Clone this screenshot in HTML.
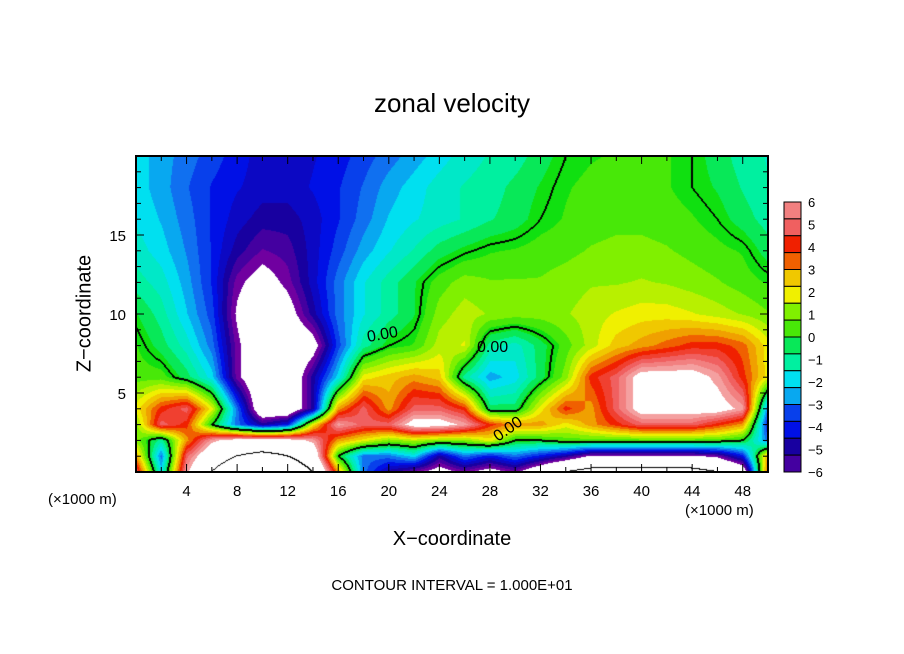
<!DOCTYPE html>
<html><head><meta charset="utf-8"><style>
body{margin:0;background:#fff;width:904px;height:654px;overflow:hidden;position:relative;font-family:"Liberation Sans",sans-serif;}
.t{position:absolute;white-space:nowrap;color:#000;}
</style></head><body>
<div class="t" style="left:0;width:904px;text-align:center;top:88px;font-size:26px;">zonal velocity</div>
<div class="t" style="left:20px;top:302px;width:130px;text-align:center;font-size:20px;transform:rotate(-90deg);">Z−coordinate</div>
<div class="t" style="left:0;width:904px;text-align:center;top:528px;font-size:20px;">X−coordinate</div>
<div class="t" style="left:48px;top:491px;font-size:15px;">(×1000 m)</div>
<div class="t" style="left:685px;top:502px;font-size:15px;">(×1000 m)</div>
<div class="t" style="left:0;width:904px;text-align:center;top:577px;font-size:15px;">CONTOUR INTERVAL = 1.000E+01</div>
<canvas id="cv" width="632" height="316" style="position:absolute;left:136px;top:156px;"></canvas>
<svg id="sv" width="904" height="654" style="position:absolute;left:0;top:0;"></svg>
<script>
const xs=[0,2,4,6,8,10,12,14,16,18,20,22,24,26,28,30,32,34,36,38,40,42,44,46,48,50];
const zs=[20,18,16,14,12,10,8,6,4,3,2,1,0];
const u20=[-2,-2.5,-3,-3.5,-4,-4.5,-4.5,-4.3,-4,-3.5,-3,-2.5,-2,-1.5,-1.2,-1,-0.5,0,0.2,0.3,0.5,0.3,0,-0.5,-1,-1.3];
const u18=[-2,-2.5,-3.2,-3.8,-4.2,-4.5,-4.5,-4.2,-3.8,-3.2,-2.5,-2,-1.5,-1.2,-1,-0.6,-0.2,0.2,0.4,0.5,0.5,0.3,0,-0.3,-0.8,-1.2];
const u16=[-1.8,-2.3,-3,-3.8,-4.5,-5,-5,-4.5,-3.8,-3,-2.2,-1.8,-1.5,-1.2,-0.8,-0.5,0,0.3,0.5,0.6,0.6,0.5,0.3,0,-0.5,-1];
const u14=[-1.5,-2,-2.8,-3.8,-5,-5.8,-5.5,-4.5,-3.5,-2.5,-1.8,-1.2,-0.5,-0.1,0.2,0.3,0.5,0.6,0.8,0.9,0.9,0.8,0.6,0.4,0.2,-0.5];
const u12=[-1,-1.5,-2.5,-3.8,-6,-7,-6,-4.5,-3,-1.8,-1,-0.3,0.5,1,0.8,0.8,0.8,1,1.2,1.2,1.3,1.2,1,0.8,0.5,0.2];
const u10=[-0.2,-1,-2.2,-3.5,-6.5,-8,-7,-5,-3,-1.8,-1,-0.3,1,1.5,1.2,1,1,1.2,1.5,1.8,2,2,1.8,1.5,1.2,0.8];
const u8=[0.3,-0.5,-1.5,-3,-6,-8,-8,-7,-3.5,-1,0,0.3,1.5,1.8,-1,-1.5,-0.5,0.5,1.5,2.5,3,3.5,4,4,3.5,2];
const u6=[0.5,0.5,-0.5,-2,-6,-8,-8,-5,-2,2,2.5,3,2.5,-1,-2.5,-2,-0.5,1,4,5,7,7,7,6,4,2];
const u4=[2,4,5,2,-3,-8,-8,-5,3,5,3,5,5,4,-0.5,-0.5,2,4,3,5,7,7,7,7,6,-3];
const u3=[1,5,4,0,-3,-5,-4,2,6,5,5,7,7,6,4,3,3,2,3,4,5,5,5,4,3,-4];
const u2=[1,-1,3,6,7,7,7,6,3,2,1,1.5,1,1,2,0,0,0.5,0.5,0.5,0.5,0.5,0.5,0.5,0,-3];
const u1=[3,-3,5,8,10,11,10,8,0,-3,-3,-2,-5,-3,-4,-3,-4,-5,-6.5,-6.5,-6.5,-6.5,-6.5,-6,-4,3];
const u0=[5,-2,6,10,13,15,13,10,3,-3,-5,-6,-7,-6,-7,-6,-8,-10,-11,-11,-11,-11,-11,-10,-8,4];
const rows=[u20,u18,u16,u14,u12,u10,u8,u6,u4,u3,u2,u1,u0];
const cbLabels=[6,5,4,3,2,1,0,-1,-2,-3,-4,-5,-6];
const xTicks=[4,8,12,16,20,24,28,32,36,40,44,48];
const yTicks=[5,10,15];

const PX0=136,PY0=156,PW=632,PH=316,XMAX=50,ZMAX=20;
const sx=x=>PX0+x/XMAX*PW, sy=z=>PY0+PH-z/ZMAX*PH;
const stops=[[-6,[112,0,160]],[-5,[24,0,160]],[-4,[0,16,230]],[-3,[16,112,240]],[-2,[0,224,240]],[-1,[0,240,160]],[0,[16,224,16]],[1,[128,240,0]],[2,[240,240,0]],[3,[240,160,0]],[4,[240,32,0]],[5,[240,96,96]],[6,[244,160,160]]];
function cmap(v){
  if(v>6.3||v<-6.3) return [255,255,255];
  v=Math.max(-6,Math.min(6,Math.round(v*2)/2));
  for(let i=0;i<stops.length-1;i++){const a=stops[i],b=stops[i+1];
    if(v<=b[0]){const t=(v-a[0])/(b[0]-a[0]);return a[1].map((c,k)=>Math.round(c+(b[1][k]-c)*t));}}
  return stops[stops.length-1][1];
}
function field(x,z){
  let i=Math.min(xs.length-2,Math.floor(x/2)); let tx=(x-xs[i])/(xs[i+1]-xs[i]);
  let j=0; while(j<zs.length-2&&z<zs[j+1]) j++;
  let tz=(zs[j]-z)/(zs[j]-zs[j+1]); tz=Math.max(0,Math.min(1,tz));
  const a=rows[j][i],b=rows[j][i+1],c=rows[j+1][i],d=rows[j+1][i+1];
  return (a*(1-tx)+b*tx)*(1-tz)+(c*(1-tx)+d*tx)*tz;
}
const cv=document.getElementById('cv'),ctx=cv.getContext('2d');
const img=ctx.createImageData(PW,PH);const F=new Float32Array(PW*PH);
for(let py=0;py<PH;py++)for(let px=0;px<PW;px++){F[py*PW+px]=field((px+0.5)/PW*XMAX,ZMAX-(py+0.5)/PH*ZMAX);}
function cross(a,b,l){return (a>=l)!==(b>=l);}
for(let py=0;py<PH;py++)for(let px=0;px<PW;px++){
  const k=py*PW+px,v=F[k];let c=cmap(v);
  const r=px<PW-1?F[k+1]:v,dn=py<PH-1?F[k+PW]:v,l=px>0?F[k-1]:v,up=py>0?F[k-PW]:v;
  if(cross(v,r,0)||cross(v,dn,0)||cross(v,l,0)||cross(v,up,0)) c=[0,0,0];
  else if(cross(v,r,10)||cross(v,dn,10)||cross(v,r,-10)||cross(v,dn,-10)) c=[0,0,0];
  img.data[k*4]=c[0];img.data[k*4+1]=c[1];img.data[k*4+2]=c[2];img.data[k*4+3]=255;
}
ctx.putImageData(img,0,0);
const sv=document.getElementById('sv');const NS='http://www.w3.org/2000/svg';
function mk(t,a,txt){const e=document.createElementNS(NS,t);for(const k in a)e.setAttribute(k,a[k]);if(txt!==undefined)e.textContent=txt;sv.appendChild(e);return e;}
let fr=mk('rect',{x:PX0,y:PY0,width:PW,height:PH,fill:'none',stroke:'#000','stroke-width':2});


for(let x=2;x<XMAX;x+=2){const L=x%4===0?8:5;
  mk('line',{x1:sx(x),x2:sx(x),y1:PY0+PH,y2:PY0+PH-L,stroke:'#000'});
  mk('line',{x1:sx(x),x2:sx(x),y1:PY0,y2:PY0+L,stroke:'#000'});}
for(let z=1;z<ZMAX;z++){const L=z%5===0?8:5;
  mk('line',{x1:PX0,x2:PX0+L,y1:sy(z),y2:sy(z),stroke:'#000'});
  mk('line',{x1:PX0+PW,x2:PX0+PW-L,y1:sy(z),y2:sy(z),stroke:'#000'});}
xTicks.forEach(v=>{const t=mk('text',{x:sx(v),y:496,'text-anchor':'middle','font-size':15,'font-family':'Liberation Sans'},v);
  
  });
yTicks.forEach(v=>{const t=mk('text',{x:126,y:sy(v)+6,'text-anchor':'end','font-size':15,'font-family':'Liberation Sans'},v);
  
  });
[[368,342,'0.00',-10],[477,352,'0.00',0],[498,442,'0.00',-35]].forEach(a=>{
  const t=mk('text',{x:a[0],y:a[1],'font-size':16,'font-family':'Liberation Sans',transform:`rotate(${a[3]} ${a[0]} ${a[1]})`},a[2]);
  
  });
const CBX=784,CBW=17,CBT=202,CBB=472,NB=16;
for(let i=0;i<NB;i++){const v=6-(i+0.5)*12/NB;const c=cmap(v);const h=(CBB-CBT)/NB;
  const r=mk('rect',{x:CBX,y:CBT+i*h,width:CBW,height:h,fill:`rgb(${c})`,stroke:'#000','stroke-width':1});
  
  }
cbLabels.forEach((v,i)=>{const y=CBT+i*(CBB-CBT)/(cbLabels.length-1);
  const t=mk('text',{x:808,y:y+5,'font-size':13,'font-family':'Liberation Sans'},v<0?'−'+(-v):v);
  
  });
</script>
</body></html>
